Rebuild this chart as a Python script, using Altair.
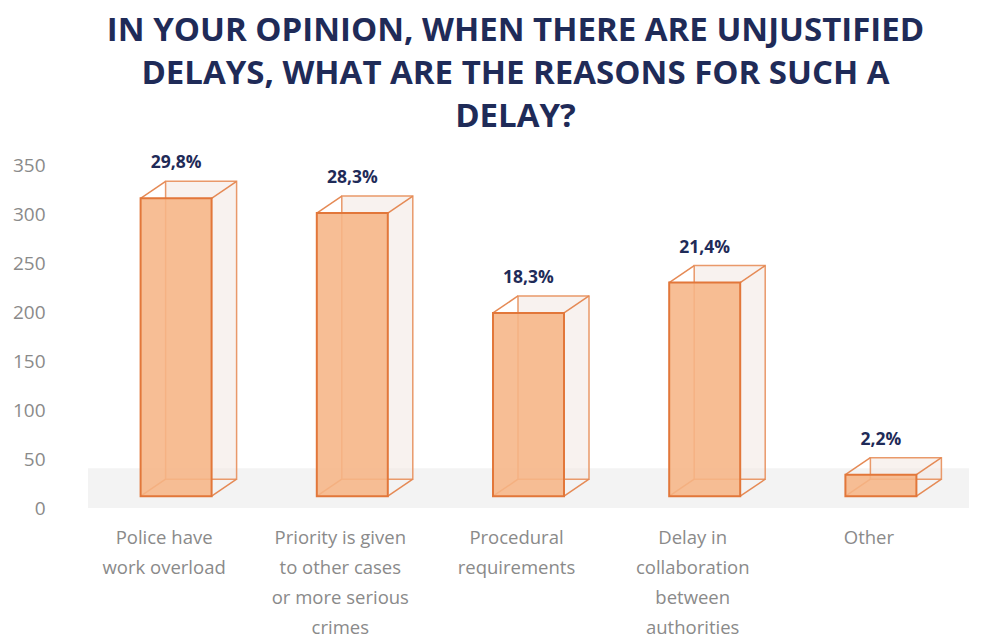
import altair as alt
import pandas as pd

categories = [
    "Police have work overload",
    "Priority is given to other cases or more serious crimes",
    "Procedural requirements",
    "Delay in collaboration between authorities",
    "Other",
]
label_lines = [
    ["Police have", "work overload"],
    ["Priority is given", "to other cases", "or more serious", "crimes"],
    ["Procedural", "requirements"],
    ["Delay in", "collaboration", "between", "authorities"],
    ["Other"],
]
counts = [304, 289, 187, 218, 22]
percent_labels = ["29,8%", "28,3%", "18,3%", "21,4%", "2,2%"]

FLOOR = 12      # visual floor height of the 3D base
DX, DY = 25, -17  # depth offset of back face (px)
BAR_W = 71

df = pd.DataFrame({"cat": categories, "value": counts, "pct": percent_labels})

label_expr = "{" + ", ".join(
    f"'{c}': [{', '.join(repr(l) for l in ls)}]" for c, ls in zip(categories, label_lines)
) + "}[datum.value]"

x = alt.X(
    "cat:N",
    sort=categories,
    scale=alt.Scale(paddingInner=0, paddingOuter=0),
    axis=alt.Axis(
        title=None, labelExpr=label_expr, labelAngle=0, domain=False, ticks=False,
        labelFont="Open Sans", labelFontSize=18.5, labelColor="#8a8a8a",
        labelLineHeight=30, labelPadding=20, labelOffset=-12, labelLimit=300,
    ),
)
y = alt.Y(
    "top:Q",
    scale=alt.Scale(domain=[0, 350], nice=False),
    axis=alt.Axis(
        title=None, values=list(range(0, 351, 50)), domain=False, ticks=False,
        labelFont="Open Sans", labelFontSize=19, labelColor="#8a8a8a",
        labelPadding=43, gridColor="#f0f0f0", gridWidth=1.5,
    ),
)

base = alt.Chart(df).transform_calculate(top=f"datum.value + {FLOOR}", bot=f"{FLOOR}")

floor = alt.Chart(df).mark_rect(color="#f3f3f3").encode(
    x=alt.value(0), x2=alt.value(881), y=alt.datum(0), y2=alt.datum(40)
)

back = base.mark_bar(
    size=BAR_W, xOffset=DX, yOffset=DY, y2Offset=DY,
    fill="#f3e7e2", fillOpacity=0.55, stroke="#e9996a", strokeWidth=1.5,
).encode(x=x, y=y, y2="bot:Q")

edge_style = dict(color="#e58a55", strokeWidth=1.5)
edges = []
for xo in (-BAR_W / 2, BAR_W / 2):
    for field in ("top", "bot"):
        edges.append(
            base.mark_rule(xOffset=xo, x2Offset=xo + DX, yOffset=0, y2Offset=DY, **edge_style)
            .encode(x=x, x2="cat:N", y=alt.Y(f"{field}:Q"), y2=f"{field}:Q")
        )

front = base.mark_bar(
    size=BAR_W, fill="#f6b586", fillOpacity=0.88, stroke="#e2773a", strokeWidth=2,
).encode(x=x, y=y, y2="bot:Q")

text = base.mark_text(
    font="Open Sans", fontSize=17.5, fontWeight="bold", color="#1f2b58", dy=-30, baseline="alphabetic",
).encode(x=x, y=y, text="pct:N")

chart = alt.layer(floor, back, *edges, front, text).properties(
    width=881,
    height=343,
    autosize=alt.AutoSizeParams(type="none"),
    padding={"left": 80, "top": 157, "right": 20, "bottom": 135},
    title=alt.Title(
        ["IN YOUR OPINION, WHEN THERE ARE UNJUSTIFIED", "DELAYS, WHAT ARE THE REASONS FOR SUCH A", "DELAY?"],
        font="Open Sans", fontSize=33, fontWeight="bold", color="#1f2b58",
        lineHeight=43, anchor="middle", offset=20, dx=-13,
    ),
).configure_view(stroke=None).configure_title(limit=1000)

chart.save("out.html", embed_options={"renderer": "svg", "actions": False})
